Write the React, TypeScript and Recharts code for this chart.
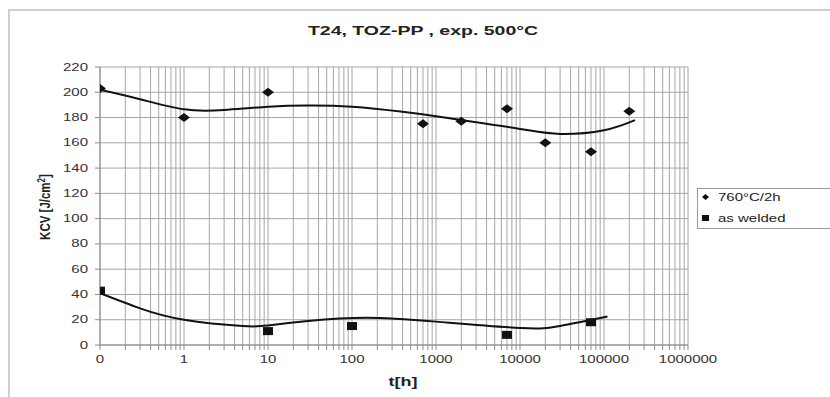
import React from 'react';
import {
  ComposedChart,
  Scatter,
  Line,
  XAxis,
  YAxis,
  CartesianGrid
} from 'recharts';

// measured points (t in hours, first test plotted at the 0.1 h axis start, shown as "0")
const hours760 = [0.1, 1, 10, 700, 2000, 7000, 20000, 70000, 200000];
const kcv760 = [203, 180, 200, 175, 177, 187, 160, 153, 185];
const hoursWelded = [0.1, 10, 100, 7000, 70000];
const kcvWelded = [43, 11, 15, 8, 18];

// trend curves
const trendHours760 = [0.1, 0.3, 1, 3, 10, 30, 100, 400, 1000, 2000, 10000, 30000, 100000, 234000];
const trendKcv760 = [202, 194.5, 186.5, 186, 188.5, 189.5, 188.5, 184.5, 181, 178, 171, 167, 170, 178];
const trendHoursWelded = [0.1, 0.3, 1, 5, 10, 30, 150, 1000, 10000, 30000, 110000];
const trendKcvWelded = [41, 29, 20, 15, 15.5, 19, 21.5, 18.5, 13.5, 15, 22.5];

const decadeTicks = [0.1, 1, 10, 100, 1000, 10000, 100000, 1000000];
const kcvTicks = [0, 20, 40, 60, 80, 100, 120, 140, 160, 180, 200, 220];

// minor log grid lines 2..9 in each decade
const minorTicks: number[] = [];
decadeTicks.slice(0, -1).forEach((d) => {
  for (let k = 2; k <= 9; k++) minorTicks.push(k * d);
});
const xTicks = [...decadeTicks, ...minorTicks].sort((a, b) => a - b);

const toPoints = (xs: number[], ys: number[]) => xs.map((x, i) => ({ x, y: ys[i] }));

const FONT = 'Liberation Sans, Arial, sans-serif';
const STRETCH = 1.5;

const XTick = (props: any) => {
  const { x, y, payload } = props;
  if (!decadeTicks.includes(payload.value)) return null;
  return (
    <g transform={`translate(${x},${y}) scale(${STRETCH},1)`}>
      <text x={0} y={0} dy="0.71em" textAnchor="middle" fontSize={10} fontFamily={FONT} fill="#333">
        {String(Math.round(payload.value))}
      </text>
    </g>
  );
};

const YTick = (props: any) => {
  const { x, y, payload } = props;
  return (
    <g transform={`translate(${x},${y}) scale(${STRETCH},1)`}>
      <text x={0} y={0} dy="0.355em" textAnchor="end" fontSize={10} fontFamily={FONT} fill="#333">
        {payload.value}
      </text>
    </g>
  );
};

const Diamond = (props: any) => {
  const { cx, cy } = props;
  return <polygon points={`${cx - 6},${cy} ${cx},${cy - 4.5} ${cx + 6},${cy} ${cx},${cy + 4.5}`} fill="#111" />;
};

const Square = (props: any) => {
  const { cx, cy } = props;
  return <rect x={cx - 5} y={cy - 4} width={10} height={8} fill="#111" />;
};

const App: React.FC = () => {
  return (
    <div style={{ position: 'relative', width: 830, height: 397, overflow: 'hidden' }}>
      <style>{`body{margin:0;overflow:hidden;background:#fff}`}</style>
      <div
        style={{
          position: 'absolute',
          left: 8,
          top: 9,
          width: 840,
          height: 400,
          borderLeft: '2px solid #cfcfcf',
          borderTop: '2px solid #cfcfcf'
        }}
      />
      <div style={{ position: 'absolute', left: 0, top: 0 }}>
        <ComposedChart width={830} height={397} margin={{ top: 67, right: 142, bottom: 22, left: 40 }}>
          <CartesianGrid stroke="#a6a6a6" strokeWidth={1} />
          <XAxis
            dataKey="x"
            type="number"
            scale="log"
            domain={[0.1, 1000000]}
            allowDataOverflow
            ticks={xTicks}
            interval={0}
            height={30}
            tickSize={5}
            tickMargin={6}
            stroke="#8c8c8c"
            tick={<XTick />}
          />
          <YAxis
            type="number"
            domain={[0, 220]}
            ticks={kcvTicks}
            interval={0}
            width={60}
            tickSize={5}
            tickMargin={7}
            stroke="#8c8c8c"
            tick={<YTick />}
          />
          <Line
            data={toPoints(trendHours760, trendKcv760)}
            dataKey="y"
            type="natural"
            stroke="#111"
            strokeWidth={2}
            dot={false}
            isAnimationActive={false}
          />
          <Line
            data={toPoints(trendHoursWelded, trendKcvWelded)}
            dataKey="y"
            type="natural"
            stroke="#111"
            strokeWidth={2}
            dot={false}
            isAnimationActive={false}
          />
          <Scatter
            name="760°C/2h"
            data={toPoints(hours760, kcv760)}
            dataKey="y"
            shape={<Diamond />}
            isAnimationActive={false}
          />
          <Scatter
            name="as welded"
            data={toPoints(hoursWelded, kcvWelded)}
            dataKey="y"
            shape={<Square />}
            isAnimationActive={false}
          />
        </ComposedChart>
      </div>
      <svg
        width={830}
        height={397}
        style={{ position: 'absolute', left: 0, top: 0, pointerEvents: 'none' }}
      >
        <g transform={`translate(423,35) scale(${STRETCH},1)`}>
          <text textAnchor="middle" fontSize={13} fontWeight="bold" fontFamily={FONT} fill="#222">
            T24, TOZ-PP , exp. 500°C
          </text>
        </g>
        <g transform={`translate(403,386) scale(${STRETCH},1)`}>
          <text textAnchor="middle" fontSize={12} fontWeight="bold" fontFamily={FONT} fill="#222">
            t[h]
          </text>
        </g>
        <g transform="translate(50,207) rotate(-90) scale(1,1.3)">
          <text textAnchor="middle" fontSize={11.5} fontWeight="bold" fontFamily={FONT} fill="#222">
            KCV [J/cm<tspan dy={-4} fontSize={8}>2</tspan><tspan dy={4}>]</tspan>
          </text>
        </g>
        <rect x={697.5} y={188.5} width={160} height={40} fill="#fff" stroke="#9a9a9a" />
        <polygon points="702,197 705.5,194 709,197 705.5,200" fill="#111" />
        <g transform={`translate(718,201) scale(${STRETCH},1)`}>
          <text fontSize={10} fontFamily={FONT} fill="#222">760°C/2h</text>
        </g>
        <rect x={702} y={215} width={7} height={6} fill="#111" />
        <g transform={`translate(718,222) scale(${STRETCH},1)`}>
          <text fontSize={10} fontFamily={FONT} fill="#222">as welded</text>
        </g>
      </svg>
    </div>
  );
};

export default App;
